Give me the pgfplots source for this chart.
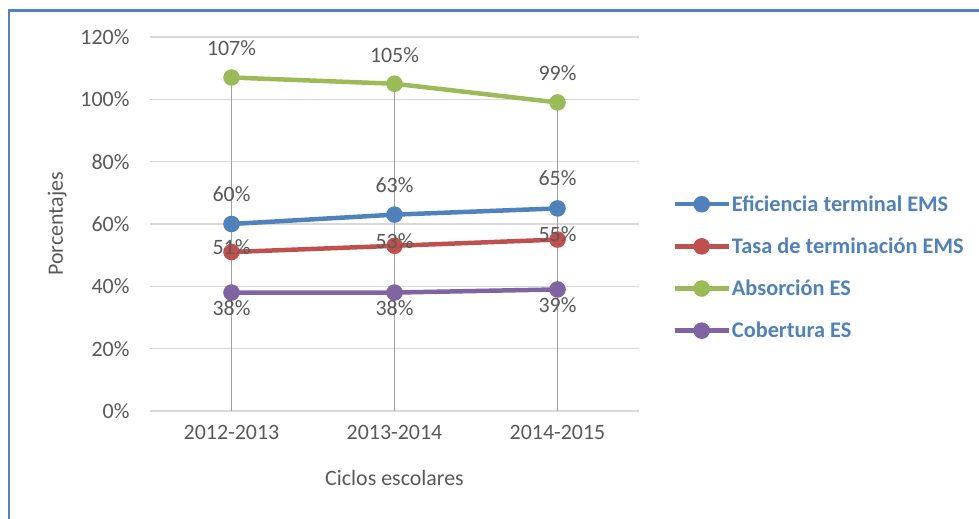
\documentclass[border=0pt]{standalone}
\usepackage{pgfplots}
\pgfplotsset{compat=1.18}
\usepackage{fontspec}
\setmainfont{Carlito}
\definecolor{cblue}{RGB}{79,129,189}
\definecolor{cred}{RGB}{192,80,77}
\definecolor{cgreen}{RGB}{155,187,89}
\definecolor{cpurple}{RGB}{128,100,162}
\definecolor{txt}{RGB}{89,89,89}
\definecolor{gridc}{RGB}{217,217,217}
\definecolor{dropc}{RGB}{160,160,160}
\definecolor{border}{RGB}{79,129,196}
\begin{document}
\begin{tikzpicture}[x=1bp,y=1bp]
\useasboundingbox (0,0) rectangle (979,519);
\draw[border, line width=2.2bp] (9,-5) -- (9,508.5) -- (990,508.5);
\begin{axis}[
  at={(150bp,108bp)}, anchor=south west,
  scale only axis, width=489bp, height=374bp,
  xmin=-0.5, xmax=2.5, ymin=0, ymax=120,
  xtick={0,1,2}, xticklabels={2012-2013,2013-2014,2014-2015},
  ytick={0,20,...,120},
  yticklabel={\pgfmathprintnumber{\tick}\%},
  /pgf/number format/assume math mode=true,
  axis line style={draw=none},
  major tick length=0pt,
  ymajorgrids, grid style={gridc, line width=1.2bp},
  tick label style={font=\fontsize{22}{26}\selectfont, text=txt},
  yticklabel style={xshift=-17bp},
  xticklabel style={yshift=-11bp},
  xlabel={Ciclos escolares}, ylabel={Porcentajes},
  label style={font=\fontsize{22}{26}\selectfont, text=txt},
  xlabel style={at={(axis description cs:0.5,-0.179)}, anchor=center},
  ylabel style={at={(axis description cs:-0.19,0.5)}, anchor=center},
  clip=false,
  legend style={at={(1.068,0.587)}, anchor=north west, draw=none, fill=none,
    font=\bfseries\fontsize{22.4}{26}\selectfont, text=cblue,
    row sep=21bp, inner xsep=0pt, column sep=0pt,
    nodes={inner xsep=1pt}},
  legend cell align=left,
  legend image code/.code={\draw[#1,mark repeat=2,mark phase=2] plot coordinates {(0bp,0bp) (27bp,0bp) (54bp,0bp)};},
  nodes near coords={\pgfmathprintnumber{\pgfplotspointmeta}\%},
  every node near coord/.append style={font=\fontsize{22}{26}\selectfont, text=txt, anchor=center},
  every axis plot/.append style={line width=4.5bp, mark=*, mark size=6bp},
]
\addplot[dropc, line width=1.8bp, ycomb, mark=none, no markers, nodes near coords={}, forget plot] coordinates {(0,107) (1,105) (2,99)};
\addplot[cblue, every node near coord/.append style={yshift=30bp}] coordinates {(0,60) (1,63) (2,65)};
\addlegendentry{Eficiencia terminal EMS}
\addplot[cred, every node near coord/.append style={yshift=5bp}] coordinates {(0,51) (1,53) (2,55)};
\addlegendentry{Tasa de terminación EMS}
\addplot[cgreen, every node near coord/.append style={yshift=29bp}] coordinates {(0,107) (1,105) (2,99)};
\addlegendentry{Absorción ES}
\addplot[cpurple, every node near coord/.append style={yshift=-16bp}] coordinates {(0,38) (1,38) (2,39)};
\addlegendentry{Cobertura ES}
\end{axis}
\end{tikzpicture}
\end{document}
